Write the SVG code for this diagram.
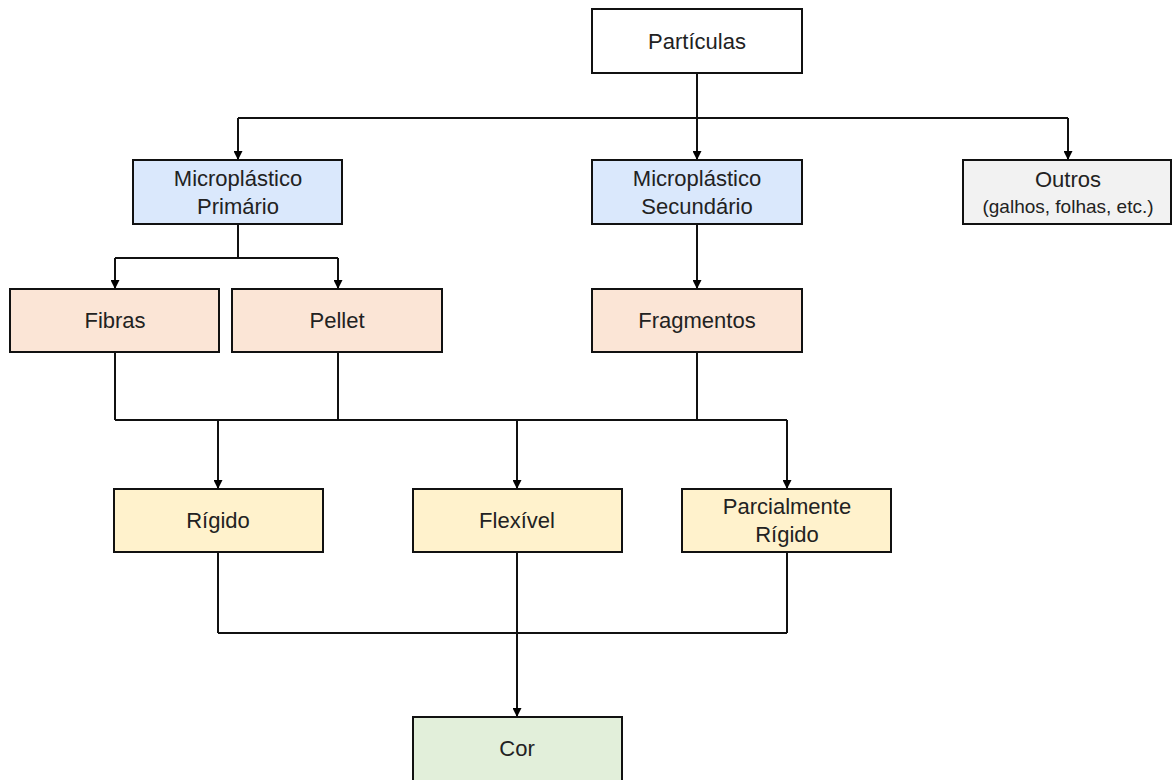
<svg xmlns="http://www.w3.org/2000/svg" width="1172" height="780" viewBox="0 0 1172 780">
<defs>
<marker id="arr" viewBox="0 0 10 10" refX="10" refY="5" markerWidth="9" markerHeight="9" markerUnits="userSpaceOnUse" orient="auto">
<path d="M0,0 L10,5 L0,10 Z" fill="#000"/>
</marker>
</defs>
<style>
rect{stroke:#111;stroke-width:2}
text{font-family:"Liberation Sans",Arial,sans-serif;font-size:22px;fill:#222;text-anchor:middle}
.sm{font-size:19px}
.c{fill:none;stroke:#111;stroke-width:2}
.a{marker-end:url(#arr)}
.white{fill:#fff}.blue{fill:#dae8fc}.gray{fill:#f2f2f2}.peach{fill:#fbe5d6}.yellow{fill:#fff2cc}.green{fill:#e2efda}
</style>
<rect width="1172" height="780" fill="#fff" style="stroke:none"/>
<g id="connectors">
<path class="c" d="M697,73 V118 M238,118 H1068"/>
<path class="c a" d="M238,118 V160"/>
<path class="c a" d="M697,118 V160"/>
<path class="c a" d="M1068,118 V160"/>
<path class="c" d="M238,224 V258 M115,258 H338"/>
<path class="c a" d="M115,258 V289"/>
<path class="c a" d="M338,258 V289"/>
<path class="c a" d="M697,224 V289"/>
<path class="c" d="M115,352 V420 M338,352 V420 M697,352 V420 M115,420 H787"/>
<path class="c a" d="M218,420 V489"/>
<path class="c a" d="M517,420 V489"/>
<path class="c a" d="M787,420 V489"/>
<path class="c" d="M218,552 V633 M787,552 V633 M218,633 H787"/>
<path class="c a" d="M517,552 V717"/>
</g>
<g id="particulas"><rect class="white" x="592" y="9" width="210" height="64"/><text x="697" y="49">Partículas</text></g>
<g id="primario"><rect class="blue" x="133" y="160" width="209" height="64"/><text x="238" y="186">Microplástico</text><text x="238" y="214">Primário</text></g>
<g id="secundario"><rect class="blue" x="592" y="160" width="210" height="64"/><text x="697" y="186">Microplástico</text><text x="697" y="214">Secundário</text></g>
<g id="outros"><rect class="gray" x="963" y="160" width="208" height="64"/><text x="1068" y="187">Outros</text><text class="sm" x="1068" y="213">(galhos, folhas, etc.)</text></g>
<g id="fibras"><rect class="peach" x="10" y="289" width="209" height="63"/><text x="115" y="328">Fibras</text></g>
<g id="pellet"><rect class="peach" x="232" y="289" width="210" height="63"/><text x="337" y="328">Pellet</text></g>
<g id="fragmentos"><rect class="peach" x="592" y="289" width="210" height="63"/><text x="697" y="328">Fragmentos</text></g>
<g id="rigido"><rect class="yellow" x="114" y="489" width="209" height="63"/><text x="218" y="528">Rígido</text></g>
<g id="flexivel"><rect class="yellow" x="413" y="489" width="209" height="63"/><text x="517" y="528">Flexível</text></g>
<g id="parcialmente"><rect class="yellow" x="682" y="489" width="209" height="63"/><text x="787" y="514">Parcialmente</text><text x="787" y="542">Rígido</text></g>
<g id="cor"><rect class="green" x="413" y="717" width="209" height="70"/><text x="517" y="756">Cor</text></g>
</svg>
